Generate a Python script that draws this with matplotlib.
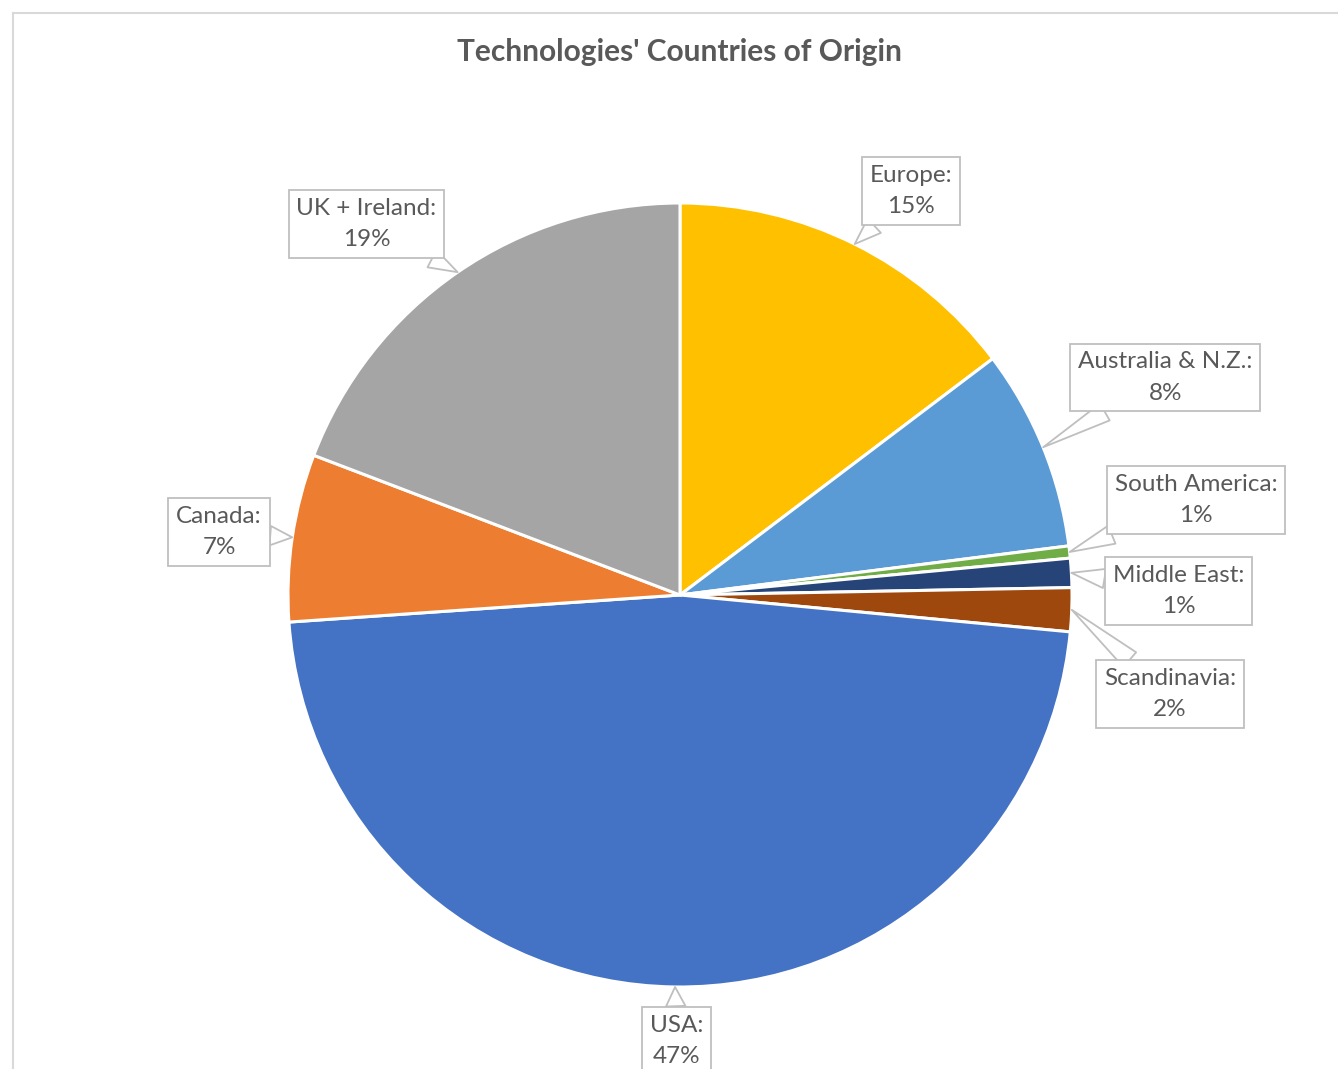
import numpy as np
import matplotlib.pyplot as plt
from matplotlib.lines import Line2D

# data (clockwise from 12 o'clock)
regions = ['Europe', 'Australia & N.Z.', 'South America', 'Middle East',
           'Scandinavia', 'USA', 'Canada', 'UK + Ireland']
shares = [14.7, 8.3, 0.5, 1.2, 1.8, 47.4, 6.9, 19.2]
share_labels = ['15%', '8%', '1%', '1%', '2%', '47%', '7%', '19%']
colors = ['#FFC000', '#5B9BD5', '#70AD47', '#264478',
          '#9E480E', '#4472C4', '#ED7D31', '#A5A5A5']

# label box centres (layout, in pie-radius units)
label_pos = [(0.59, 1.03), (1.238, 0.555), (1.316, 0.242), (1.272, 0.01),
             (1.25, -0.253), (-0.008, -1.137), (-1.176, 0.161), (-0.80, 0.946)]

plt.rcParams['font.family'] = ['Lato', 'DejaVu Sans']

fig = plt.figure(figsize=(13.38, 10.69), dpi=100)
W, H = 1338.0, 1069.0
cx, cy, R = 680.0, 595.0, 392.0
ax = fig.add_axes([(cx - R) / W, (H - cy - R) / H, 2 * R / W, 2 * R / H])

wedges, _ = ax.pie(shares, colors=colors, startangle=90, counterclock=False,
                   radius=1.0, wedgeprops=dict(edgecolor='white', linewidth=2.2))
ax.set_xlim(-1, 1)
ax.set_ylim(-1, 1)
ax.axis('off')

for w, name, lab, pos in zip(wedges, regions, share_labels, label_pos):
    ang = np.deg2rad((w.theta1 + w.theta2) / 2.0)
    pt = (np.cos(ang), np.sin(ang))
    ax.annotate(name + ':\n' + lab, xy=pt, xytext=pos,
                xycoords='data', textcoords='data',
                ha='center', va='center', multialignment='center',
                fontsize=17.5, color='#595959', linespacing=1.6,
                annotation_clip=False,
                bbox=dict(boxstyle='square,pad=0.32', fc='white', ec='#BFBFBF', lw=1.3),
                arrowprops=dict(arrowstyle='wedge,tail_width=0.8,shrink_factor=0.5',
                                fc='white', ec='#BFBFBF', lw=1.3,
                                shrinkA=0, shrinkB=0))

fig.text(679 / W, 1 - 52 / H, "Technologies' Countries of Origin",
         ha='center', va='center', fontsize=21.5, fontweight='bold', color='#595959')

# chart area border
fig.add_artist(Line2D([13 / W, 1.0], [1 - 13 / H, 1 - 13 / H], color='#D9D9D9', lw=1.5))
fig.add_artist(Line2D([13 / W, 13 / W], [0.0, 1 - 13 / H], color='#D9D9D9', lw=1.5))

fig.savefig('out.png', dpi=100, facecolor='white')
